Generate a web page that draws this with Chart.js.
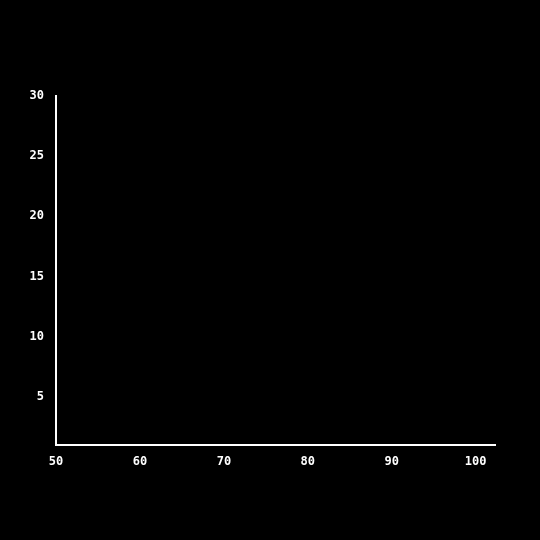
<!DOCTYPE html>
<html><head><style>html,body{margin:0;background:#000}#w{width:540px;height:540px}</style>
<script src="https://cdn.jsdelivr.net/npm/chart.js@4"></script></head>
<body><div id="w"><canvas id="c"></canvas></div>
<script>
const xTicks=[50,60,70,80,90,100];
const yTicks=[5,10,15,20,25,30];
const points=[];
const font={family:'"DejaVu Sans Mono"',size:12,weight:'bold'};
new Chart(document.getElementById('c'),{
type:'scatter',
data:{datasets:[{data:points}]},
options:{responsive:true,maintainAspectRatio:false,animation:false,
layout:{padding:{top:96,right:45,left:0,bottom:0}},
plugins:{legend:{display:false},tooltip:{enabled:false}},
scales:{
x:{type:'linear',min:50,max:102.3,afterBuildTicks:a=>{a.ticks=xTicks.map(v=>({value:v}))},
 grid:{display:false},border:{color:'#fff',width:2},
 ticks:{color:'#fff',font,padding:2,maxRotation:0},afterFit:a=>{a.height=95}},
y:{type:'linear',min:1,max:30,afterBuildTicks:a=>{a.ticks=yTicks.map(v=>({value:v}))},
 grid:{display:false},border:{color:'#fff',width:2},
 ticks:{color:'#fff',font,padding:4},afterFit:a=>{a.width=56}}
}}});
</script></body></html>
